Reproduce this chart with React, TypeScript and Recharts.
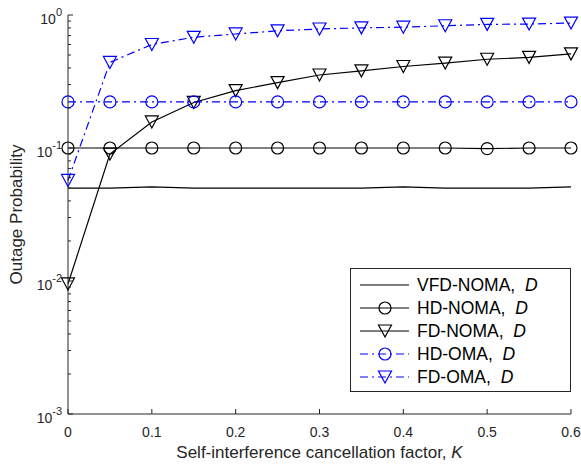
import { Legend, Line, LineChart, XAxis, YAxis } from "recharts";

const K_VALUES = [0, 0.05, 0.1, 0.15, 0.2, 0.25, 0.3, 0.35, 0.4, 0.45, 0.5, 0.55, 0.6];
const VFD_NOMA = [0.05, 0.05, 0.051, 0.05, 0.05, 0.05, 0.05, 0.05, 0.051, 0.05, 0.05, 0.05, 0.051];
const HD_NOMA = [0.1, 0.1, 0.1, 0.1, 0.1, 0.1, 0.1, 0.1, 0.1, 0.1, 0.099, 0.1, 0.1];
const FD_NOMA = [0.0095, 0.09, 0.157, 0.22, 0.27, 0.31, 0.354, 0.38, 0.41, 0.435, 0.465, 0.48, 0.51];
const HD_OMA = [0.222, 0.222, 0.222, 0.222, 0.222, 0.222, 0.222, 0.222, 0.222, 0.222, 0.222, 0.222, 0.222];
const FD_OMA = [0.057, 0.44, 0.6, 0.68, 0.72, 0.76, 0.785, 0.8, 0.81, 0.83, 0.85, 0.855, 0.87];

const X_TICKS = [0, 0.1, 0.2, 0.3, 0.4, 0.5, 0.6];
const Y_MAJOR = [0.001, 0.01, 0.1, 1];
const Y_MINOR = [
  0.002, 0.003, 0.004, 0.005, 0.006, 0.007, 0.008, 0.009,
  0.02, 0.03, 0.04, 0.05, 0.06, 0.07, 0.08, 0.09,
  0.2, 0.3, 0.4, 0.5, 0.6, 0.7, 0.8, 0.9,
];
const Y_TICKS = [...Y_MAJOR, ...Y_MINOR].sort((a, b) => a - b);

const data = K_VALUES.map((k, i) => ({
  k,
  vfdNoma: VFD_NOMA[i],
  hdNoma: HD_NOMA[i],
  fdNoma: FD_NOMA[i],
  hdOma: HD_OMA[i],
  fdOma: FD_OMA[i],
}));

const FONT = "'Liberation Sans', Arial, Helvetica, sans-serif";
const AXIS = "#262626";
const BLUE = "#0000ff";
const DASHDOT = "8 4 2 4";
const TICK_FS = 14;

const isMajor = (v: number) => Y_MAJOR.some((m) => Math.abs(m - v) < 1e-9);

function circleDot(color: string) {
  return (p: any) => (
    <circle key={`c-${p.index}`} cx={p.cx} cy={p.cy} r={6} fill="none" stroke={color} strokeWidth={1.2} />
  );
}

function triPoints(cx: number, cy: number) {
  return `${cx - 6.5},${cy - 6} ${cx + 6.5},${cy - 6} ${cx},${cy + 6}`;
}

function triangleDot(color: string) {
  return (p: any) => (
    <polygon key={`t-${p.index}`} points={triPoints(p.cx, p.cy)} fill="none" stroke={color} strokeWidth={1.2} />
  );
}

// bottom axis: tickSize 0, tickMargin 18 -> axis line at y - 18
function BottomTick(p: any) {
  const ay = p.y - 18;
  return (
    <g>
      <line x1={p.x} x2={p.x} y1={ay} y2={ay - 5} stroke={AXIS} />
      <text x={p.x} y={p.y + 5} textAnchor="middle" fontSize={TICK_FS} fontFamily={FONT} fill="#262626">
        {String(p.payload.value)}
      </text>
    </g>
  );
}

function TopTick(p: any) {
  return <line x1={p.x} x2={p.x} y1={p.y} y2={p.y + 5} stroke={AXIS} />;
}

// left axis: tickSize 0, tickMargin 5 -> axis line at x + 5
function LeftTick(p: any) {
  const v = p.payload.value;
  const major = isMajor(v);
  const ax = p.x + 5;
  return (
    <g>
      <line x1={ax} x2={ax + (major ? 5 : 3)} y1={p.y} y2={p.y} stroke={AXIS} />
      {major && (
        <text x={ax - 6} y={p.y + 9} textAnchor="end" fontSize={TICK_FS} fontFamily={FONT} fill="#262626">
          <tspan>10</tspan>
          <tspan dy={-8} fontSize={11}>
            {Math.round(Math.log10(v))}
          </tspan>
        </text>
      )}
    </g>
  );
}

function RightTick(p: any) {
  const major = isMajor(p.payload.value);
  return <line x1={p.x} x2={p.x - (major ? 5 : 3)} y1={p.y} y2={p.y} stroke={AXIS} />;
}

const LEGEND_ITEMS = [
  { name: "VFD-NOMA", color: "#000000", dash: undefined, marker: "none" },
  { name: "HD-NOMA", color: "#000000", dash: undefined, marker: "circle" },
  { name: "FD-NOMA", color: "#000000", dash: undefined, marker: "triangle" },
  { name: "HD-OMA", color: BLUE, dash: DASHDOT, marker: "circle" },
  { name: "FD-OMA", color: BLUE, dash: DASHDOT, marker: "triangle" },
];

function LegendBox() {
  return (
    <svg width={221} height={125} style={{ display: "block" }}>
      <rect x={0.5} y={0.5} width={220} height={123} fill="#ffffff" stroke={AXIS} />
      {LEGEND_ITEMS.map((it, i) => {
        const y = 17 + i * 23;
        return (
          <g key={it.name}>
            <line x1={10} x2={59} y1={y} y2={y} stroke={it.color} strokeDasharray={it.dash} strokeWidth={1.2} />
            {it.marker === "circle" && <circle cx={35} cy={y} r={6} fill="none" stroke={it.color} strokeWidth={1.2} />}
            {it.marker === "triangle" && (
              <polygon points={triPoints(35, y)} fill="none" stroke={it.color} strokeWidth={1.2} />
            )}
            <text x={67} y={y + 6} fontSize={17.5} fontFamily={FONT} fill="#000">
              {it.name},{"\u00a0\u00a0"}
              <tspan fontStyle="italic">D</tspan>
            </text>
          </g>
        );
      })}
    </svg>
  );
}

export default function App() {
  return (
    <div style={{ position: "absolute", left: 0, top: 0, width: 581, height: 465, background: "#fff" }}>
      <LineChart width={581} height={465} data={data} margin={{ top: 15, right: 10, left: 8, bottom: 21 }}>
        <XAxis
          dataKey="k"
          type="number"
          domain={[0, 0.6]}
          ticks={X_TICKS}
          interval={0}
          tickSize={0}
          tickMargin={18}
          tickLine={false}
          axisLine={{ stroke: AXIS }}
          tick={(p: any) => <BottomTick {...p} />}
          height={30}
          label={(props: any) => {
            const vb = props.viewBox;
            return (
              <text x={vb.x + vb.width / 2} y={458} textAnchor="middle" fontSize={17} fontFamily={FONT} fill="#262626">
                Self-interference cancellation factor,{" "}
                <tspan fontStyle="italic">K</tspan>
              </text>
            );
          }}
        />
        <XAxis
          xAxisId="top"
          orientation="top"
          dataKey="k"
          type="number"
          domain={[0, 0.6]}
          ticks={X_TICKS}
          interval={0}
          tickSize={0}
          tickMargin={0}
          tickLine={false}
          axisLine={{ stroke: AXIS }}
          tick={(p: any) => <TopTick {...p} />}
          height={0}
        />
        <YAxis
          scale="log"
          type="number"
          domain={[0.001, 1]}
          allowDataOverflow
          ticks={Y_TICKS}
          interval={0}
          tickSize={0}
          tickMargin={5}
          tickLine={false}
          axisLine={{ stroke: AXIS }}
          tick={(p: any) => <LeftTick {...p} />}
          width={60}
          label={(props: any) => {
            const vb = props.viewBox;
            const cy = vb.y + vb.height / 2;
            return (
              <text
                x={22}
                y={cy}
                transform={`rotate(-90 22 ${cy})`}
                textAnchor="middle"
                fontSize={17}
                fontFamily={FONT}
                fill="#262626"
              >
                Outage Probability
              </text>
            );
          }}
        />
        <YAxis
          yAxisId="right"
          orientation="right"
          scale="log"
          type="number"
          domain={[0.001, 1]}
          allowDataOverflow
          ticks={Y_TICKS}
          interval={0}
          tickSize={0}
          tickMargin={0}
          tickLine={false}
          axisLine={{ stroke: AXIS }}
          tick={(p: any) => <RightTick {...p} />}
          width={0}
        />
        <Legend
          layout="horizontal"
          verticalAlign="middle"
          align="center"
          wrapperStyle={{ left: 350, top: 268, width: 221, height: 125 }}
          content={() => <LegendBox />}
        />
        <Line dataKey="vfdNoma" stroke="#000" strokeWidth={1.2} dot={false} isAnimationActive={false} />
        <Line dataKey="hdNoma" stroke="#000" strokeWidth={1.2} dot={circleDot("#000")} isAnimationActive={false} />
        <Line dataKey="fdNoma" stroke="#000" strokeWidth={1.2} dot={triangleDot("#000")} isAnimationActive={false} />
        <Line
          dataKey="hdOma"
          stroke={BLUE}
          strokeWidth={1.2}
          strokeDasharray={DASHDOT}
          dot={circleDot(BLUE)}
          isAnimationActive={false}
        />
        <Line
          dataKey="fdOma"
          stroke={BLUE}
          strokeWidth={1.2}
          strokeDasharray={DASHDOT}
          dot={triangleDot(BLUE)}
          isAnimationActive={false}
        />
      </LineChart>
    </div>
  );
}
